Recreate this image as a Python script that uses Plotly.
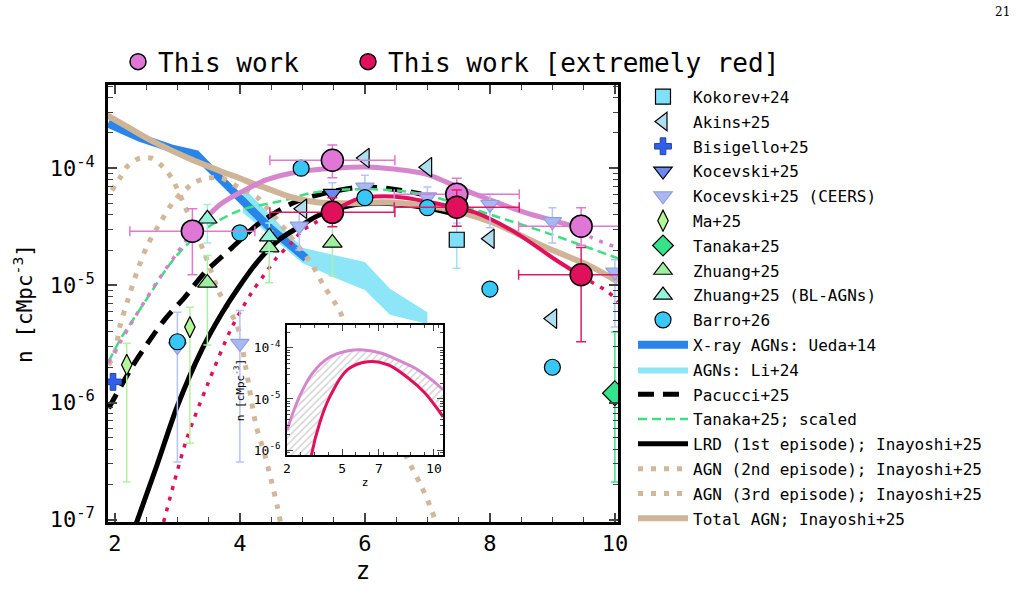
import plotly.graph_objects as go

# ---------------- data ----------------
# This work
tw_z = [3.24, 5.48, 7.47, 9.46]
tw_n = [2.9e-5, 1.17e-4, 6.0e-5, 3.2e-5]
tw_lo = [1.23e-5, 8.3e-5, 4.4e-5, 2.2e-5]
tw_hi = [4.5e-5, 1.58e-4, 8.2e-5, 4.6e-5]
tw_dz = [1.0, 1.0, 1.0, 1.0]
# This work [extremely red]
tr_z = [5.48, 7.47, 9.46]
tr_n = [4.2e-5, 4.65e-5, 1.23e-5]
tr_lo = [3.16e-5, 3.2e-5, 3.3e-6]
tr_hi = [5.6e-5, 6.5e-5, 2.1e-5]
tr_dz = [1.0, 1.0, 1.0]

kok_z = [7.47]; kok_n = [2.45e-5]; kok_lo = [1.4e-5]; kok_hi = [3.4e-5]
akins_z = [5.0, 6.0, 7.0, 8.0, 9.0]
akins_n = [4.5e-5, 1.22e-4, 1.02e-4, 2.5e-5, 5.2e-6]
bis_z = [1.97]; bis_n = [1.5e-6]
koc_z = [5.48]; koc_n = [6.1e-5]; koc_lo = [5.0e-5]; koc_hi = [7.5e-5]
kocc_z = [3.0, 4.0, 4.95, 6.0, 7.0, 8.0, 9.0, 10.0]
kocc_n = [3.0e-6, 3.2e-6, 3.2e-5, 6.9e-5, 5.7e-5, 4.9e-5, 3.5e-5, 1.3e-5]
kocc_lo = [3.1e-7, 3.1e-7, 2.0e-5, 5.3e-5, 4.6e-5, 3.1e-5, 2.3e-5, 4.4e-6]
kocc_hi = [5.9e-6, 6.1e-6, 4.2e-5, 8.7e-5, 6.9e-5, 6.0e-5, 4.6e-5, 1.65e-5]
ma_z = [2.19, 3.2]; ma_n = [2.1e-6, 4.4e-6]; ma_lo = [2.1e-7, 4.5e-7]; ma_hi = [3.2e-6, 6.5e-6]
tan_z = [10.0]; tan_n = [1.2e-6]; tan_lo = [2.1e-7]; tan_hi = [4.0e-6]
zh_z = [3.48, 4.47, 5.48]; zh_n = [1.05e-5, 2.1e-5, 2.3e-5]
zh_lo = [3.1e-6, 1.05e-5, 1.2e-5]; zh_hi = [1.8e-5, 2.9e-5, 3.2e-5]
zhb_z = [3.48, 4.47]; zhb_n = [3.7e-5, 2.6e-5]; zhb_lo = [2.3e-5, 1.9e-5]; zhb_hi = [4.9e-5, 3.4e-5]
barro_z = [3.0, 4.0, 4.98, 6.0, 7.0, 8.0, 9.0]
barro_n = [3.3e-6, 2.8e-5, 1.0e-4, 5.6e-5, 4.6e-5, 9.3e-6, 2.0e-6]

# curves (log10 n)
ueda_z = [1.89, 2.4, 2.9, 3.3, 3.5, 4.0, 4.5, 5.06]
ueda_l = [-3.62, -3.74, -3.83, -3.88, -3.99, -4.26, -4.52, -4.77]
li_z = [4.05, 5.0, 5.5, 6.0, 6.4, 7.0]
li_up = [-4.16, -4.68, -4.74, -4.80, -5.03, -5.23]
li_lo = [-4.38, -4.81, -4.93, -5.04, -5.25, -5.33]
pac_z = [1.9, 2.27, 2.53, 2.8, 3.12, 3.44, 3.87, 4.31, 4.84, 5.38, 6.0, 6.6, 6.9]
pac_l = [-6.05, -5.70, -5.49, -5.29, -5.10, -4.89, -4.68, -4.47, -4.30, -4.21, -4.16, -4.19, -4.22]
tsc_z = [1.9, 2.11, 2.32, 2.53, 2.85, 3.12, 3.5, 4.0, 4.74, 5.16, 5.8, 6.5, 7.0, 7.5, 8.03, 8.9, 10.05]
tsc_l = [-5.65, -5.44, -5.27, -5.10, -4.84, -4.67, -4.50, -4.36, -4.27, -4.21, -4.18, -4.19,
         -4.23, -4.31, -4.40, -4.55, -4.77]
lrd_z = [2.33, 2.67, 3.0, 3.39, 3.71, 3.99, 4.31, 4.63, 4.95, 5.27, 5.75, 6.3, 7.0, 7.5]
lrd_l = [-7.05, -6.54, -6.03, -5.55, -5.24, -5.01, -4.78, -4.61, -4.50, -4.40, -4.32, -4.30, -4.34, -4.40]
ep2_z = [1.95, 2.08, 2.19, 2.37, 2.59, 2.77, 2.91, 3.0, 3.43, 3.67, 3.96, 4.1, 4.26, 4.39, 4.5, 4.6, 4.66]
ep2_l = [-4.19, -4.085, -3.99, -3.92, -3.915, -3.99, -4.085, -4.18, -4.72, -5.06, -5.35, -5.72,
         -6.20, -6.43, -6.66, -6.89, -7.05]
ep3_z = [1.9, 2.0, 2.08, 2.21, 2.35, 2.51, 2.72, 2.96, 3.28, 3.48, 3.71, 4.0, 4.28, 4.42, 4.58,
         4.79, 4.98, 5.14, 5.35, 5.59, 5.67, 6.70, 6.90, 7.07, 7.15]
ep3_l = [-5.68, -5.57, -5.35, -5.12, -4.89, -4.67, -4.47, -4.27, -4.12, -4.085, -4.085, -4.17,
         -4.25, -4.33, -4.43, -4.57, -4.70, -4.81, -5.01, -5.21, -5.31, -6.50, -6.71, -6.92, -7.05]
tot_z = [1.88, 2.11, 2.37, 2.64, 2.91, 3.16, 3.43, 3.71, 3.97, 4.2, 4.42, 4.84, 5.22, 5.75, 6.3,
         6.6, 7.23, 8.03, 8.83, 9.62, 10.05]
tot_l = [-3.55, -3.62, -3.70, -3.78, -3.85, -3.91, -3.97, -4.03, -4.08, -4.13, -4.17, -4.25, -4.29,
         -4.30, -4.29, -4.30, -4.34, -4.46, -4.66, -4.84, -4.97]
pk_z = [3.24, 3.71, 4.07, 4.42, 4.95, 5.5, 6.02, 6.5, 6.98, 7.66, 8.57, 9.37, 9.46]
pk_l = [-4.54, -4.30, -4.19, -4.10, -4.03, -4.00, -3.99, -4.01, -4.05, -4.20, -4.38, -4.50, -4.52]
pkL_z = [1.9, 2.3, 2.7, 3.0, 3.24]
pkL_l = [-5.66, -5.29, -4.95, -4.72, -4.54]
pkR_z = [9.46, 9.62, 10.05]
pkR_l = [-4.52, -4.59, -4.68]
rd_z = [5.48, 5.9, 6.3, 6.6, 7.13, 7.77, 8.41, 8.99, 9.46]
rd_l = [-4.37, -4.26, -4.24, -4.25, -4.30, -4.38, -4.55, -4.76, -4.92]
rdL_z = [2.78, 3.15, 3.48, 3.87, 4.19, 4.39, 4.58, 4.84, 5.0, 5.19, 5.48]
rdL_l = [-7.02, -6.31, -5.85, -5.36, -5.06, -4.91, -4.77, -4.63, -4.53, -4.47, -4.37]
rdR_z = [9.46, 9.62, 9.9, 10.05]
rdR_l = [-4.92, -4.97, -5.06, -5.14]

# inset curves
in_pk_z = [2.0, 2.67, 3.4, 4.33, 5.28, 6.17, 7.1, 8.05, 8.94, 9.9, 10.5]
in_pk_l = [-5.61, -4.96, -4.49, -4.18, -4.06, -4.04, -4.10, -4.24, -4.39, -4.63, -4.82]
in_rd_z = [3.25, 3.33, 3.78, 4.33, 5.28, 6.39, 7.5, 8.6, 9.5, 10.5]
in_rd_l = [-6.3, -6.1, -5.47, -4.96, -4.43, -4.27, -4.33, -4.59, -4.88, -5.35]

xticks = [2, 4, 6, 8, 10]
yticks = [1e-7, 1e-6, 1e-5, 1e-4]
ytick_text = ["10<sup>-7</sup>", "10<sup>-6</sup>", "10<sup>-5</sup>", "10<sup>-4</sup>"]
in_xticks = [2, 5, 7, 10]
in_yticks = [1e-6, 1e-5, 1e-4]
in_ytick_text = ["10<sup>-6</sup>", "10<sup>-5</sup>", "10<sup>-4</sup>"]

# ---------------- helpers ----------------
MONO = "DejaVu Sans Mono"
P = lambda arr: [10 ** v for v in arr]


def err(n, lo, hi, color, thick=1.5, width=4):
    return dict(type="data", symmetric=False,
                array=[h - v for v, h in zip(n, hi)],
                arrayminus=[v - l for v, l in zip(n, lo)],
                color=color, thickness=thick, width=width)


fig = go.Figure()


def line(x, y, name, color, width, dash="solid", show=True, r=None, shape="spline"):
    fig.add_trace(go.Scatter(x=x, y=y, mode="lines", name=name,
                             line=dict(color=color, width=width, dash=dash,
                                       shape=shape, smoothing=0.8),
                             showlegend=show, legendrank=r if r else 1000,
                             legendgroup=name))


# bands
fig.add_trace(go.Scatter(x=li_z + li_z[::-1], y=P(li_up) + P(li_lo)[::-1], fill="toself",
                         mode="lines", line=dict(width=0, color="#8DE6F8"),
                         fillcolor="#8DE6F8", name="AGNs: Li+24", legendrank=12,
                         legendgroup="li"))
line(ueda_z, P(ueda_l), "X-ray AGNs: Ueda+14", "#2A85EA", 8, r=11, shape="linear")
# Inayoshi components
line(ep2_z, P(ep2_l), "AGN (2nd episode); Inayoshi+25", "#D2B79B", 5, "5px,8px", r=16)
line(ep3_z, P(ep3_l), "AGN (3rd episode); Inayoshi+25", "#D2B79B", 5, "5px,8px", r=17)
line(lrd_z, P(lrd_l), "LRD (1st episode); Inayoshi+25", "black", 5, r=15)
line(pac_z, P(pac_l), "Pacucci+25", "black", 5, "16px,9px", r=13)
line(tsc_z, P(tsc_l), "Tanaka+25; scaled", "#3CE07F", 2.5, "9px,5px", r=14)
line(tot_z, P(tot_l), "Total AGN; Inayoshi+25", "#CFB497", 6, r=18)
# this work fits
line(pkL_z, P(pkL_l), "tw_left", "#D77ECF", 3.5, "4px,7px", show=False)
line(pkR_z, P(pkR_l), "tw_right", "#D77ECF", 3.5, "4px,7px", show=False)
line(pk_z, P(pk_l), "tw_fit", "#D586CC", 5, show=False)
line(rdL_z, P(rdL_l), "tr_left", "#E0105C", 3.5, "4px,7px", show=False)
line(rdR_z, P(rdR_l), "tr_right", "#E0105C", 3.5, "4px,7px", show=False)
line(rd_z, P(rd_l), "tr_fit", "#E0105C", 4, show=False)


def pts(x, y, name, symbol, color, size, r, edge="black", ew=1.2, ebar=None):
    fig.add_trace(go.Scatter(x=x, y=y, mode="markers", name=name, legendrank=r,
                             legendgroup=name,
                             marker=dict(symbol=symbol, color=color, size=size,
                                         line=dict(color=edge, width=ew)),
                             error_y=ebar))


pts(ma_z, ma_n, "Ma+25", "diamond-tall", "#B4F596", 15, 6, ebar=err(ma_n, ma_lo, ma_hi, "#B8F0A0"))
pts(tan_z, tan_n, "Tanaka+25", "diamond", "#35E38A", 19, 7, ebar=err(tan_n, tan_lo, tan_hi, "#40E090"))
pts(kocc_z, kocc_n, "Kocevski+25 (CEERS)", "triangle-down", "#A9B8F2", 16, 5, edge="#8E9FE0",
    ebar=err(kocc_n, kocc_lo, kocc_hi, "#B4C4F8"))
pts(koc_z, koc_n, "Kocevski+25", "triangle-down", "#6A8AF0", 16, 4,
    ebar=err(koc_n, koc_lo, koc_hi, "#B4C4F8"))
pts(zh_z, zh_n, "Zhuang+25", "triangle-up", "#9EF0A0", 17, 8, ebar=err(zh_n, zh_lo, zh_hi, "#A8F0A8"))
pts(zhb_z, zhb_n, "Zhuang+25 (BL-AGNs)", "triangle-up", "#92F5D8", 17, 9,
    ebar=err(zhb_n, zhb_lo, zhb_hi, "#A0F0D8"))
pts(kok_z, kok_n, "Kokorev+24", "square", "#80DFFA", 15, 1, ebar=err(kok_n, kok_lo, kok_hi, "#9BE3F5"))
pts(akins_z, akins_n, "Akins+25", "triangle-left", "#ADDFF0", 17, 2)
pts(bis_z, bis_n, "Bisigello+25", "cross", "#3060E8", 14, 3, edge="#2040B0", ew=1)
pts(barro_z, barro_n, "Barro+26", "circle", "#38C8F8", 16, 10)

# This work points
fig.add_trace(go.Scatter(x=tw_z, y=tw_n, mode="markers", name="This work", legend="legend2",
                         marker=dict(symbol="circle", color="#E076D6", size=22,
                                     line=dict(color="black", width=1.5)),
                         error_y=err(tw_n, tw_lo, tw_hi, "#E07ACF", 1.5, 5),
                         error_x=dict(type="data", array=tw_dz, color="#E07ACF", thickness=1.5, width=5)))
fig.add_trace(go.Scatter(x=tr_z, y=tr_n, mode="markers", name="This work [extremely red]",
                         legend="legend3",
                         marker=dict(symbol="circle", color="#E0105C", size=22,
                                     line=dict(color="black", width=1.5)),
                         error_y=err(tr_n, tr_lo, tr_hi, "#E21A66", 1.5, 5),
                         error_x=dict(type="data", array=tr_dz, color="#E21A66", thickness=1.5, width=5)))

# ---------------- inset ----------------
fig.add_trace(go.Scatter(x=in_pk_z + in_rd_z[::-1] + [2.0],
                         y=P(in_pk_l) + P(in_rd_l)[::-1] + [10 ** -6.3],
                         fill="toself", mode="lines", line=dict(width=0, shape="spline"),
                         fillcolor="white",
                         fillpattern=dict(shape="/", fgcolor="#A8A8A8", bgcolor="white",
                                          size=5, solidity=0.3),
                         xaxis="x2", yaxis="y2", showlegend=False))
fig.add_trace(go.Scatter(x=in_pk_z, y=P(in_pk_l), mode="lines",
                         line=dict(color="#D586CC", width=3, shape="spline"), xaxis="x2", yaxis="y2",
                         showlegend=False))
fig.add_trace(go.Scatter(x=in_rd_z, y=P(in_rd_l), mode="lines",
                         line=dict(color="#E0105C", width=3, shape="spline"), xaxis="x2", yaxis="y2",
                         showlegend=False))

# ---------------- layout ----------------
ymin_ticks = [m * 10 ** e for e in range(-8, -2) for m in range(2, 10)]

axis_common = dict(showline=True, linecolor="black", mirror="allticks", ticks="inside",
                   showgrid=False, zeroline=False)

fig.update_layout(
    width=1025, height=616,
    margin=dict(l=108, r=407, t=85, b=94),
    paper_bgcolor="white", plot_bgcolor="white",
    font=dict(family=MONO, color="black"),
    xaxis=dict(**axis_common, linewidth=2.5, range=[1.89, 10.05], tickvals=xticks,
               ticklen=9, tickwidth=1.5, tickfont=dict(size=22),
               minor=dict(ticks="inside", ticklen=5, tickwidth=1.2, dtick=0.5, tick0=0),
               title=dict(text="z", font=dict(size=24), standoff=8)),
    yaxis=dict(**axis_common, linewidth=2.5, type="log", range=[-7.02, -3.29],
               tickvals=yticks, ticktext=ytick_text, ticklen=9, tickwidth=1.5,
               tickfont=dict(size=22), ticklabelstandoff=6,
               minor=dict(ticks="inside", ticklen=5, tickwidth=1.2, tickvals=ymin_ticks),
               title=dict(text="n [cMpc<sup>-3</sup>]", font=dict(size=21), standoff=12)),
    xaxis2=dict(**axis_common, linewidth=2, domain=[0.351, 0.657], anchor="y2",
                range=[2.0, 10.5], tickvals=in_xticks, ticklen=6, tickwidth=1.2,
                tickfont=dict(size=13),
                minor=dict(ticks="inside", ticklen=3, tickwidth=1, dtick=0.75, tick0=2),
                title=dict(text="z", font=dict(size=11), standoff=4)),
    yaxis2=dict(**axis_common, linewidth=2, domain=[0.153, 0.451], anchor="x2", type="log",
                range=[-6.1, -3.55], tickvals=in_yticks, ticktext=in_ytick_text,
                ticklen=6, tickwidth=1.2, tickfont=dict(size=13), ticklabelstandoff=2,
                minor=dict(ticks="inside", ticklen=3, tickwidth=1, tickvals=ymin_ticks),
                title=dict(text="n [cMpc<sup>-3</sup>]", font=dict(size=11), standoff=7)),
    legend=dict(x=(633 - 108) / 510, y=1.012, xanchor="left", yanchor="top", font=dict(size=16),
                traceorder="grouped", tracegroupgap=1, itemwidth=50, maxheight=600,
                bgcolor="rgba(0,0,0,0)"),
    legend2=dict(orientation="h", x=(118 - 108) / 510, y=1.107, xanchor="left", yanchor="top",
                 font=dict(size=26), bgcolor="rgba(0,0,0,0)"),
    legend3=dict(orientation="h", x=(348 - 108) / 510, y=1.107, xanchor="left", yanchor="top",
                 font=dict(size=26), bgcolor="rgba(0,0,0,0)"),
    showlegend=True,
)

fig.add_annotation(text="21", x=(1012 - 108) / 510, y=(522 - 3) / 437, xref="paper", yref="paper",
                   showarrow=False, xanchor="right", yanchor="top",
                   font=dict(family="DejaVu Serif", size=12))

fig.write_html("out.html")
